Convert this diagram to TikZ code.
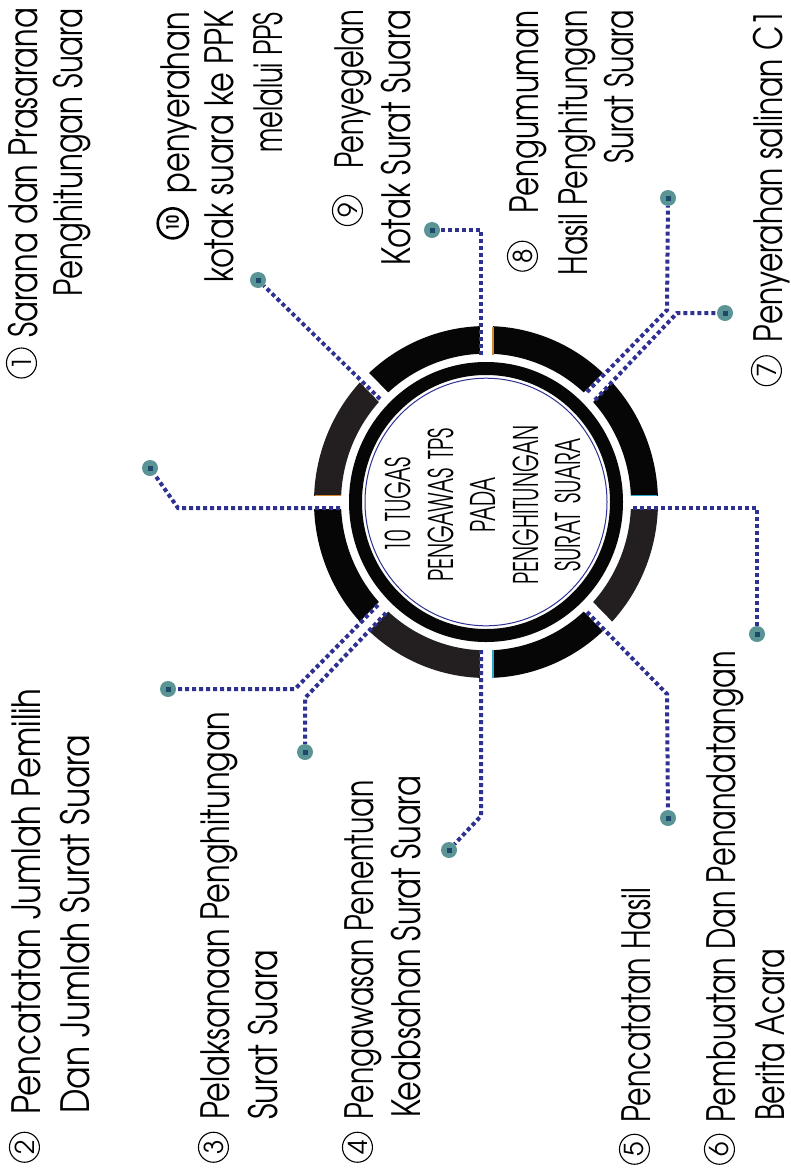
\documentclass[tikz,border=0pt]{standalone}
\usepackage{fontspec}
\setmainfont{texgyreadventor-regular.otf}[FakeStretch=0.78]
\newfontfamily\cfont{texgyreadventor-regular.otf}[FakeStretch=0.6]
\newfontfamily\dfont{texgyreadventor-regular.otf}
\newfontfamily\bfont{texgyreadventor-bold.otf}[FakeStretch=0.85]
\definecolor{dotblue}{HTML}{2E3192}
\definecolor{segblack}{HTML}{060606}
\definecolor{seggray}{HTML}{231F20}
\definecolor{tealdot}{HTML}{5A9494}
\definecolor{tealdark}{HTML}{1D4A6A}
\definecolor{accorange}{HTML}{D4862A}
\definecolor{acccyan}{HTML}{29A8C8}
\newcommand\cn[1]{\tikz[baseline=(cn.south)]\node[circle, draw, line width=1.1pt, inner sep=0pt, minimum size=30pt, font=\dfont\fontsize{26}{26}\selectfont](cn){#1};}
\newcommand\cnb[1]{\tikz[baseline=(cn.south)]\node[circle, draw, line width=2.6pt, inner sep=0pt, minimum size=30pt, font=\bfont\fontsize{17}{17}\selectfont](cn){#1};}
\newcommand\sx[2]{\scalebox{#1}[1]{#2}}
\tikzset{
  lbl/.style={rotate=90, inner sep=0pt, font=\fontsize{39}{45}\selectfont},
  ctr/.style={rotate=90, inner sep=0pt, anchor=base, font=\cfont\fontsize{34}{40}\selectfont},
  conn/.style={draw=dotblue, line width=4, dash pattern=on 4 off 3},
  enddot/.style={circle, fill=tealdot, minimum size=16, inner sep=0pt,
    path picture={\fill[tealdark] ([shift={(-2.5,-2.5)}]path picture bounding box.center) rectangle ([shift={(2.5,2.5)}]path picture bounding box.center);}},
}
\begin{document}
\begin{tikzpicture}[x=1pt, y=-1pt]
\useasboundingbox[fill=white] (0,0) rectangle (790,1170);
% ---------- ring ----------
\begin{scope}[shift={(486,502)}, yscale=1.023]
  \foreach \a/\c in {-90/segblack, -45/segblack, 0/seggray, 45/segblack, 90/seggray, 135/segblack, 180/seggray, 225/segblack}{
    \pgfmathsetmacro\b{\a+45}
    \fill[\c] (\a:172) arc[start angle=\a, end angle=\b, radius=172] -- (\b:145) arc[start angle=\b, end angle=\a, radius=145] -- cycle;
  }
  \foreach \a in {0,45,90,135}{
    \draw[white, line width=13] (\a:140) -- (\a:180);
    \draw[white, line width=13] (\a+180:140) -- (\a+180:180);
  }
  \draw[segblack, line width=13] (0,0) circle[radius=130.5];
  \draw[dotblue, line width=1] (0,0) circle[radius=121];
\end{scope}
% thin accent edges
\draw[accorange, line width=1.2] (493,327) -- (493,355);
\draw[accorange, line width=1.2] (315,495.5) -- (341,495.5);
\draw[acccyan, line width=1.2] (631,495.5) -- (657,495.5);
\draw[acccyan, line width=1.2] (493,650) -- (493,678);
% ---------- centre text ----------
\node[ctr] (c1) at (410,505) {10\hspace{9pt}TUGAS};
\node[ctr] (c2) at (453,505) {PENGAWAS\hspace{9pt}TPS};
\node[ctr] (c3) at (495,505) {PADA};
\node[ctr] (c4) at (538,505) {PENGHITUNGAN};
\node[ctr] (c5) at (580,505) {SURAT\hspace{9pt}SUARA};
% ---------- connector points ----------
\coordinate (sa) at (481,355);  \coordinate (ka) at (481,230);
\coordinate (sb) at (380,399);
\coordinate (sc) at (340,508);  \coordinate (kc) at (178,508);
\coordinate (sd1) at (378,605); \coordinate (kd1) at (295,689);
\coordinate (sd2) at (386,613); \coordinate (kd2) at (305,698);
\coordinate (se) at (481,650);  \coordinate (ke) at (481,816);
\coordinate (sf) at (587,612);  \coordinate (kf) at (667,694);
\coordinate (sg) at (633,508);  \coordinate (kg) at (757,508);
\coordinate (sh1) at (587,392); \coordinate (kh1) at (667,310);
\coordinate (sh2) at (595,400); \coordinate (kh2) at (677,313);
\node[enddot] (ea) at (432,230) {};
\node[enddot] (eb) at (258,280) {};
\node[enddot] (ec) at (150,468) {};
\node[enddot] (ed1) at (168,689) {};
\node[enddot] (ed2) at (305,752) {};
\node[enddot] (ee) at (449,850) {};
\node[enddot] (ef) at (668,818) {};
\node[enddot] (eg) at (757,634) {};
\node[enddot] (eh1) at (668,198) {};
\node[enddot] (eh2) at (725,313) {};
\draw[conn] (sa) -- (ka) -- (ea);
\draw[conn] (sb) -- (eb);
\draw[conn] (sc) -- (kc) -- (ec);
\draw[conn] (sd1) -- (kd1) -- (ed1);
\draw[conn] (sd2) -- (kd2) -- (ed2);
\draw[conn] (se) -- (ke) -- (ee);
\draw[conn] (sf) -- (kf) -- (ef);
\draw[conn] (sg) -- (kg) -- (eg);
\draw[conn] (sh1) -- (kh1) -- (eh1);
\draw[conn] (sh2) -- (kh2) -- (eh2);
% ---------- top labels (right aligned, reading upward) ----------
\node[lbl, anchor=base east] (t1a) at (37,8) {\cn{1}\hspace{10pt}Sarana dan Prasarana};
\node[lbl, anchor=base east] (t1b) at (82,8) {\sx{0.96}{Penghitungan Suara}};
\node[lbl, anchor=base east] (t10a) at (189,12) {\cnb{10}\hspace{14pt}penyerahan};
\node[lbl, anchor=base east] (t10b) at (233,10) {kotak suara ke PPK};
\node[lbl, anchor=base east] (t10c) at (282,12) {\sx{0.85}{melalui PPS}};
\node[lbl, anchor=base east] (t9a) at (363,10) {\cn{9}\hspace{26pt}\sx{0.9}{Penyegelan}};
\node[lbl, anchor=base east] (t9b) at (410,10) {Kotak Surat Suara};
\node[lbl, anchor=base east] (t8a) at (538,10) {\cn{8}\hspace{27pt}\sx{0.97}{Pengumuman}};
\node[lbl, anchor=base east] (t8b) at (587,10) {\sx{0.94}{Hasil Penghitungan}};
\node[lbl, anchor=base east] (t8c) at (633,10) {\sx{0.93}{Surat Suara}};
\node[lbl, anchor=base east] (t7) at (782,10) {\cn{7}\hspace{13pt}\sx{0.98}{Penyerahan salinan C1}};
% ---------- bottom labels (left aligned, reading upward) ----------
\node[lbl, anchor=base west] (b2a) at (40,1163) {\cn{2}\hspace{17pt}\sx{1.06}{Pencatatan Jumlah Pemilih}};
\node[lbl, anchor=base west] (b2b) at (89,1114) {\sx{1.08}{Dan Jumlah Surat Suara}};
\node[lbl, anchor=base west] (b3a) at (229,1163) {\cn{3}\hspace{12pt}Pelaksanaan Penghitungan};
\node[lbl, anchor=base west] (b3b) at (277,1120) {\sx{1.03}{Surat Suara}};
\node[lbl, anchor=base west] (b4a) at (373,1163) {\cn{4}\hspace{12pt}\sx{0.93}{Pengawasan Penentuan}};
\node[lbl, anchor=base west] (b4b) at (420,1118) {Keabsahan Surat Suara};
\node[lbl, anchor=base west] (b5) at (650,1165) {\cn{5}\hspace{11pt}\sx{0.94}{Pencatatan Hasil}};
\node[lbl, anchor=base west] (b6a) at (735,1165) {\cn{6}\hspace{11pt}\sx{0.945}{Pembuatan Dan Penandatangan}};
\node[lbl, anchor=base west] (b6b) at (784,1121) {\sx{0.94}{Berita Acara}};
\end{tikzpicture}
\end{document}
